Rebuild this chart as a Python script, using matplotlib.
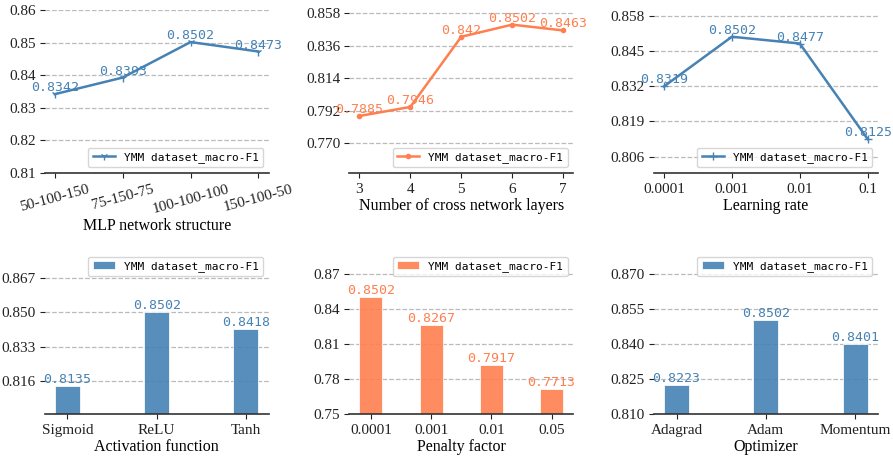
import numpy as np
import matplotlib
matplotlib.use("Agg")
import matplotlib.pyplot as plt

plt.rcParams['font.family'] = ['Liberation Serif', 'DejaVu Serif']

# ---- data ----
mlp_labels = ['50-100-150', '75-150-75', '100-100-100', '150-100-50']
mlp_f1 = [0.8342, 0.8393, 0.8502, 0.8473]

cross_labels = ['3', '4', '5', '6', '7']
cross_f1 = [0.7885, 0.7946, 0.842, 0.8502, 0.8463]

lr_labels = ['0.0001', '0.001', '0.01', '0.1']
lr_f1 = [0.8319, 0.8502, 0.8477, 0.8125]

act_labels = ['Sigmoid', 'ReLU', 'Tanh']
act_f1 = [0.8135, 0.8502, 0.8418]

pen_labels = ['0.0001', '0.001', '0.01', '0.05']
pen_f1 = [0.8502, 0.8267, 0.7917, 0.7713]

opt_labels = ['Adagrad', 'Adam', 'Momentum']
opt_f1 = [0.8223, 0.8502, 0.8401]

legend_name = 'YMM dataset_macro-F1'
blue = 'steelblue'
orange = 'coral'
mono = 'DejaVu Sans Mono'

fig, axes = plt.subplots(2, 3, figsize=(8.93, 4.61), dpi=100)
plt.subplots_adjust(left=0.05, right=0.983, top=0.978, bottom=0.102,
                    wspace=0.36, hspace=0.48)


def style(ax, yticks, ylim, xlabel):
    ax.set_ylim(*ylim)
    ax.set_yticks(yticks)
    ax.yaxis.grid(True, linestyle='--', color='#bbbbbb', linewidth=0.9)
    ax.set_axisbelow(True)
    for s in ['top', 'right', 'left']:
        ax.spines[s].set_visible(False)
    ax.spines['bottom'].set_color('#333333')
    ax.spines['bottom'].set_linewidth(1.2)
    ax.tick_params(axis='both', labelsize=11, colors='#222222')
    ax.tick_params(axis='y', pad=3)
    ax.set_xlabel(xlabel, fontsize=11.5, labelpad=2)


def line_panel(ax, labels, vals, color, marker, yticks, ylim, xlabel, fmt):
    x = np.arange(len(labels))
    ax.plot(x, vals, color=color, marker=marker, markersize=6, linewidth=1.8,
            label=legend_name)
    for xi, v in zip(x, vals):
        ax.text(xi, v, fmt(v), ha='center', va='bottom', color=color,
                fontsize=9.5, family=mono)
    ax.set_xticks(x)
    ax.set_xticklabels(labels)
    style(ax, yticks, ylim, xlabel)
    ax.legend(loc='lower right', prop={'family': mono, 'size': 8})


def bar_panel(ax, labels, vals, color, width, yticks, ylim, xlabel):
    x = np.arange(len(labels))
    ax.bar(x, vals, width=width, color=color, alpha=0.9, edgecolor='white',
           linewidth=0.6, label=legend_name)
    for xi, v in zip(x, vals):
        ax.text(xi, v, '%.4f' % v, ha='center', va='bottom', color=color,
                fontsize=9.5, family=mono)
    ax.set_xticks(x)
    ax.set_xticklabels(labels)
    style(ax, yticks, ylim, xlabel)
    ax.legend(loc='upper right', prop={'family': mono, 'size': 8})


fmt4 = lambda v: ('%.4f' % v).rstrip('0')

line_panel(axes[0, 0], mlp_labels, mlp_f1, blue, '1',
           [0.81, 0.82, 0.83, 0.84, 0.85, 0.86], (0.81, 0.86),
           'MLP network structure', fmt4)
for lbl in axes[0, 0].get_xticklabels():
    lbl.set_rotation(15)

line_panel(axes[0, 1], cross_labels, cross_f1, orange, '.',
           [0.770, 0.792, 0.814, 0.836, 0.858], (0.75, 0.86),
           'Number of cross network layers', fmt4)
axes[0, 1].set_yticklabels(['0.770', '0.792', '0.814', '0.836', '0.858'])

line_panel(axes[0, 2], lr_labels, lr_f1, blue, '+',
           [0.806, 0.819, 0.832, 0.845, 0.858], (0.80, 0.86),
           'Learning rate', fmt4)

bar_panel(axes[1, 0], act_labels, act_f1, blue, 0.28,
          [0.816, 0.833, 0.850, 0.867], (0.80, 0.88), 'Activation function')
axes[1, 0].set_yticklabels(['0.816', '0.833', '0.850', '0.867'])

bar_panel(axes[1, 1], pen_labels, pen_f1, orange, 0.38,
          [0.75, 0.78, 0.81, 0.84, 0.87], (0.75, 0.89), 'Penalty factor')

bar_panel(axes[1, 2], opt_labels, opt_f1, blue, 0.28,
          [0.810, 0.825, 0.840, 0.855, 0.870], (0.81, 0.88), 'Optimizer')
axes[1, 2].set_yticklabels(['0.810', '0.825', '0.840', '0.855', '0.870'])

plt.savefig('out.png', dpi=100)
